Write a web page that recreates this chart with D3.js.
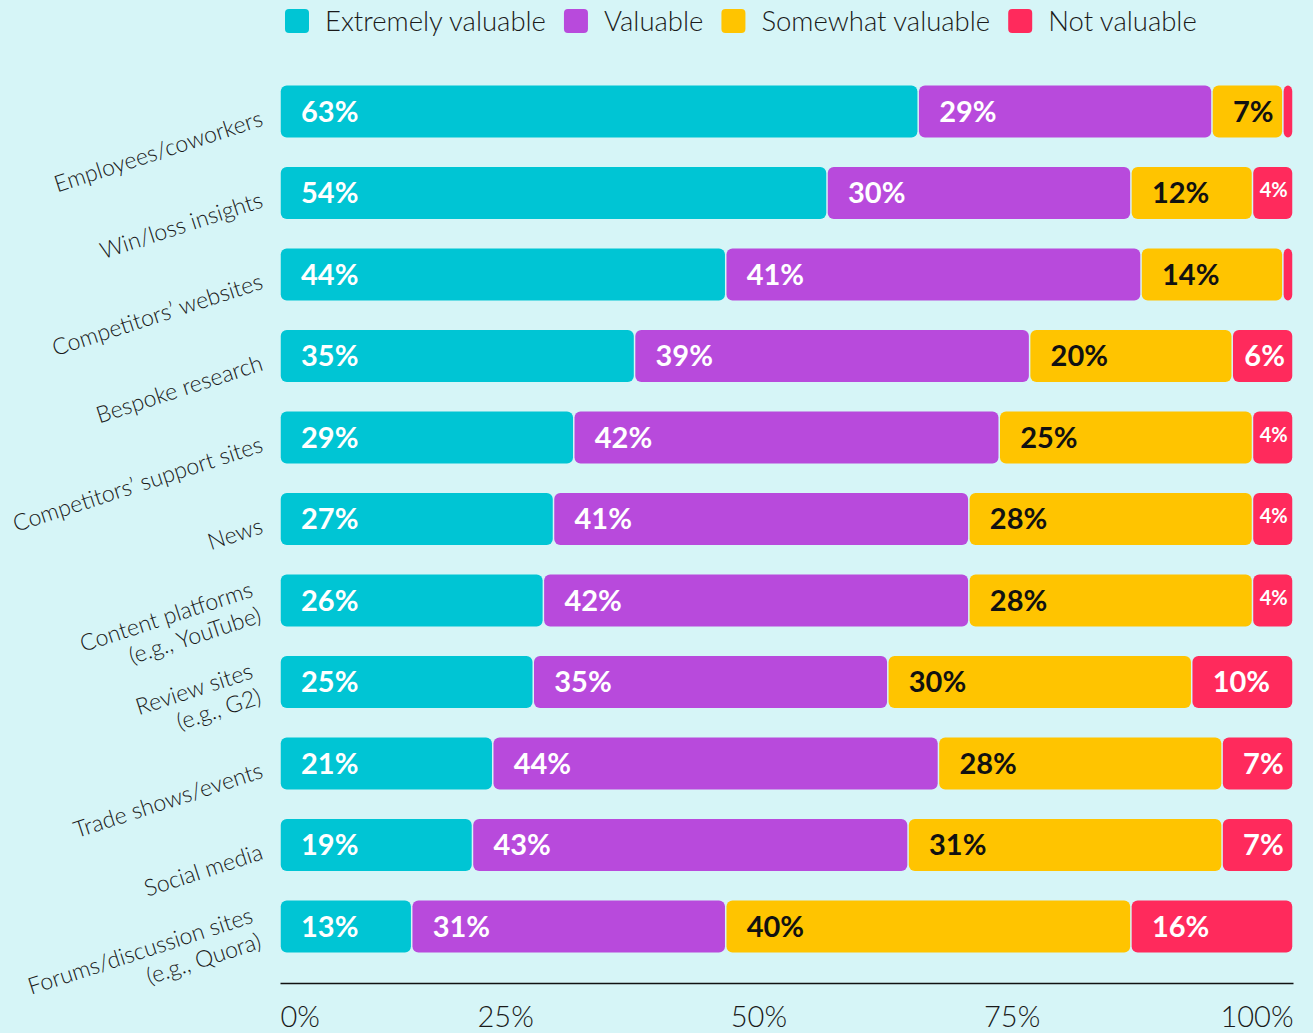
<!DOCTYPE html>
<html>
  <head>
    <meta charset="utf-8">
    <title>Value of competitive intelligence sources</title>
    <script src="https://cdn.jsdelivr.net/npm/d3@7"></script>
    <style>
      html, body { margin: 0; padding: 0; background: #d6f5f7; }
      svg { display: block; }
      .light { font-family: "Lato", "Open Sans", sans-serif; font-weight: 300; fill: #1a1a1a; }
      .pct { font-family: "Lato", "Open Sans", sans-serif; font-weight: 700; }
    </style>
  </head>
  <body>
    <svg id="chart" width="1313" height="1033"></svg>
    <script>
      // data
      var categories = [
        ["Employees/coworkers"],
        ["Win/loss insights"],
        ["Competitors\u2019 websites"],
        ["Bespoke research"],
        ["Competitors\u2019 support sites"],
        ["News"],
        ["Content platforms", "(e.g., YouTube)"],
        ["Review sites", "(e.g., G2)"],
        ["Trade shows/events"],
        ["Social media"],
        ["Forums/discussion sites", "(e.g., Quora)"]
      ];
      var seriesNames = ["Extremely valuable", "Valuable", "Somewhat valuable", "Not valuable"];
      var extremely = [63, 54, 44, 35, 29, 27, 26, 25, 21, 19, 13];
      var valuable  = [29, 30, 41, 39, 42, 41, 42, 35, 44, 43, 31];
      var somewhat  = [7, 12, 14, 20, 25, 28, 28, 30, 28, 31, 40];
      var notVal    = [1, 4, 1, 6, 4, 4, 4, 10, 7, 7, 16];
      var xTicks = [0, 25, 50, 75, 100];

      var colors = ["#00c5d4", "#b84adc", "#ffc400", "#ff2a5c"];
      var textColors = ["#ffffff", "#ffffff", "#111111", "#ffffff"];

      var svg = d3.select("#chart");
      var keys = categories.map(function(d) { return d.join(" "); });

      // stacked rows
      var rows = keys.map(function(k, i) {
        return { key: k, lines: categories[i], values: [extremely[i], valuable[i], somewhat[i], notVal[i]] };
      });
      var stack = d3.stack()
        .keys([0, 1, 2, 3])
        .value(function(d, k) { return d.values[k]; });
      var series = stack(rows);

      var x = d3.scaleLinear().domain([0, 100]).range([280, 1293]);
      var y = d3.scaleBand().domain(keys)
        .range([70.75, 967.25])
        .paddingInner(0.362)
        .paddingOuter(0.181);

      // bars
      var layers = svg.append("g").selectAll("g")
        .data(series)
        .enter().append("g")
          .attr("fill", function(d, i) { return colors[i]; });

      layers.selectAll("rect")
        .data(function(d) { return d; })
        .enter().append("rect")
          .attr("x", function(d) { return x(d[0]) + 0.75; })
          .attr("y", function(d) { return y(d.data.key); })
          .attr("width", function(d) { return Math.max(0, x(d[1]) - x(d[0]) - 1.5); })
          .attr("height", y.bandwidth())
          .attr("rx", 6);

      // value labels
      layers.each(function(s, i) {
        d3.select(this).selectAll("text")
          .data(s.filter(function(d) { return d[1] - d[0] >= 2; }))
          .enter().append("text")
            .attr("class", "pct")
            .attr("fill", textColors[i])
            .each(function(d) {
              var v = d[1] - d[0];
              var w = x(d[1]) - x(d[0]);
              var cy = y(d.data.key) + y.bandwidth() / 2;
              var t = d3.select(this).text(v + "%");
              if (w < 48) {
                // tiny segments: small centred label, sitting a bit high
                t.attr("x", (x(d[0]) + x(d[1])) / 2 + 1)
                  .attr("y", cy + 4)
                  .attr("text-anchor", "middle")
                  .attr("font-size", 20);
              } else if (w < 66) {
                t.attr("x", (x(d[0]) + x(d[1])) / 2 + 2)
                  .attr("y", cy + 10)
                  .attr("text-anchor", "middle")
                  .attr("font-size", 29);
              } else {
                t.attr("x", x(d[0]) + 21)
                  .attr("y", cy + 10)
                  .attr("font-size", 29);
              }
            });
      });

      // category labels, rotated
      var catLabels = svg.append("g").selectAll("text")
        .data(rows)
        .enter().append("text")
          .attr("class", "light")
          .attr("font-size", 23)
          .attr("text-anchor", "end")
          .attr("transform", function(d) {
            var tx = d.lines.length === 1 ? 263 : 259;
            return "translate(" + tx + "," + (y(d.key) + y.bandwidth() / 2 + 10) + ") rotate(-18)";
          });
      catLabels.each(function(d) {
        var t = d3.select(this);
        var n = d.lines.length;
        d.lines.forEach(function(line, j) {
          t.append("tspan")
            .attr("x", 0)
            .attr("y", n === 1 ? 4 : (j === 0 ? -15 : 12))
            .text(line);
        });
      });

      // x axis
      var xAxis = d3.axisBottom(x)
        .tickValues(xTicks)
        .tickSize(0)
        .tickPadding(23)
        .tickFormat(function(d) { return d + "%"; });
      var axisG = svg.append("g")
        .attr("transform", "translate(0,983)")
        .call(xAxis);
      axisG.select(".domain").attr("stroke", "#111").attr("stroke-width", 1.5);
      axisG.selectAll(".tick text")
        .attr("class", "light")
        .attr("font-size", 29)
        .attr("dy", "0.71em")
        .attr("text-anchor", function(d) { return d === 0 ? "start" : "end"; })
        .attr("fill", "#1a1a1a");

      // legend
      var legend = svg.append("g");
      var lx = 285;
      seriesNames.forEach(function(name, i) {
        legend.append("rect")
          .attr("x", lx).attr("y", 9)
          .attr("width", 24).attr("height", 24)
          .attr("rx", 4)
          .attr("fill", colors[i]);
        var t = legend.append("text")
          .attr("class", "light")
          .attr("x", lx + 40).attr("y", 31)
          .attr("font-size", 27.5)
          .text(name);
        lx += 40 + t.node().getComputedTextLength() + 18;
      });
    </script>
  </body>
</html>
